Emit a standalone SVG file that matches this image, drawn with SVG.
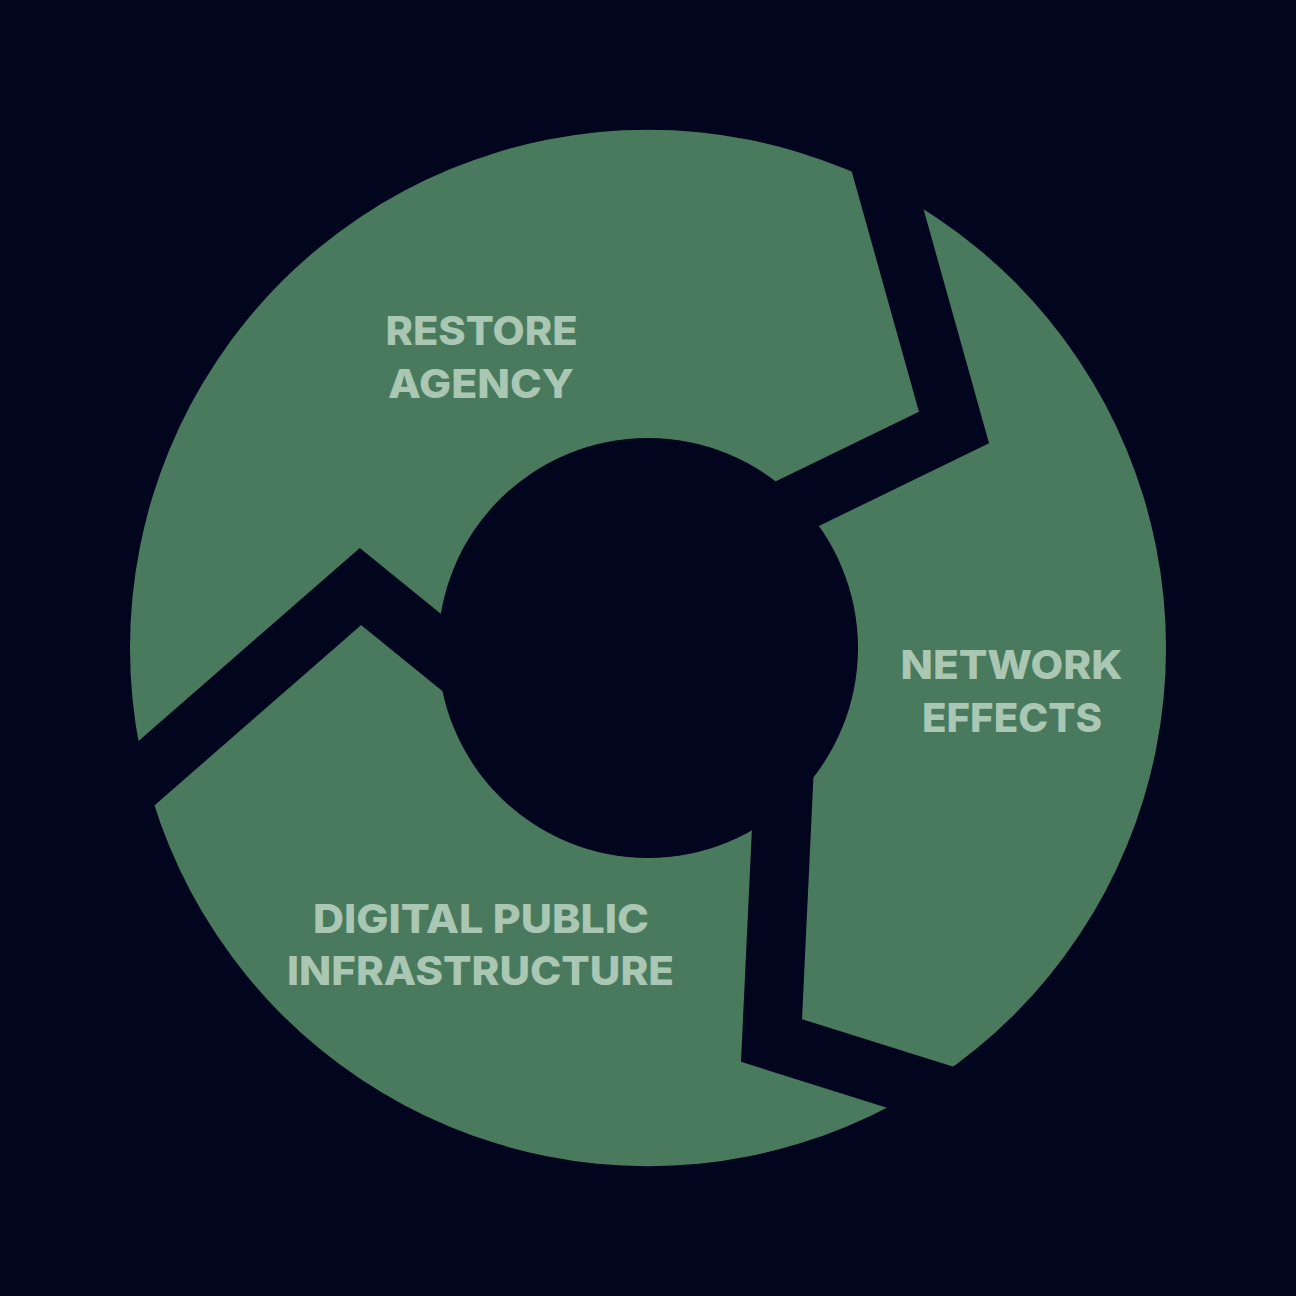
<svg xmlns="http://www.w3.org/2000/svg" width="1296" height="1296" viewBox="0 0 1296 1296">
  <style>
    .seg { fill: #4a7a5e; fill-rule: evenodd; }
    .cut { fill: none; stroke: #02051e; stroke-width: 59; stroke-linejoin: miter; stroke-miterlimit: 10; stroke-linecap: butt; }
    .lbl { font-family: Inter, "Open Sans", "Liberation Sans", sans-serif; font-weight: 800; font-size: 40px; fill: #a9c7b3; text-anchor: middle; }
  </style>
  <defs>
    <path id="ring" d="M130,648 A518,518 0 1 0 1166,648 A518,518 0 1 0 130,648 Z M438,648 A210,210 0 1 0 858,648 A210,210 0 1 0 438,648 Z"/>
    <clipPath id="c1"><polygon points="648,648 520,716 360.5,586.5 0,901.5 0,0 834,0 954,427.5 700,551"/></clipPath>
    <clipPath id="c2"><polygon points="648,648 700,551 954,427.5 834,0 1296,0 1296,1206 771.5,1040.5 788,690"/></clipPath>
    <clipPath id="c3"><polygon points="648,648 788,690 771.5,1040.5 1296,1206 1296,1296 0,1296 0,901.5 360.5,586.5 520,716"/></clipPath>
  </defs>
  <rect width="1296" height="1296" fill="#02051e"/>
  <g id="restore-agency">
    <use href="#ring" class="seg" clip-path="url(#c1)"/>
    <text class="lbl" x="481.5" y="345" textLength="192" lengthAdjust="spacingAndGlyphs">RESTORE</text>
    <text class="lbl" x="481" y="398" textLength="186" lengthAdjust="spacingAndGlyphs">AGENCY</text>
  </g>
  <g id="network-effects">
    <use href="#ring" class="seg" clip-path="url(#c2)"/>
    <text class="lbl" x="1011.5" y="679" textLength="222" lengthAdjust="spacingAndGlyphs">NETWORK</text>
    <text class="lbl" x="1012" y="732" textLength="180" lengthAdjust="spacingAndGlyphs">EFFECTS</text>
  </g>
  <g id="digital-public-infrastructure">
    <use href="#ring" class="seg" clip-path="url(#c3)"/>
    <text class="lbl" x="481" y="933" textLength="336" lengthAdjust="spacingAndGlyphs">DIGITAL PUBLIC</text>
    <text class="lbl" x="480.5" y="985" textLength="387" lengthAdjust="spacingAndGlyphs">INFRASTRUCTURE</text>
  </g>
  <g id="connectors">
    <polyline class="cut" points="859,88 954,427.5 700,551"/>
    <polyline class="cut" points="94,819 360.5,586.5 520,716"/>
    <polyline class="cut" points="788,690 771.5,1040.5 1034,1123"/>
  </g>
</svg>
